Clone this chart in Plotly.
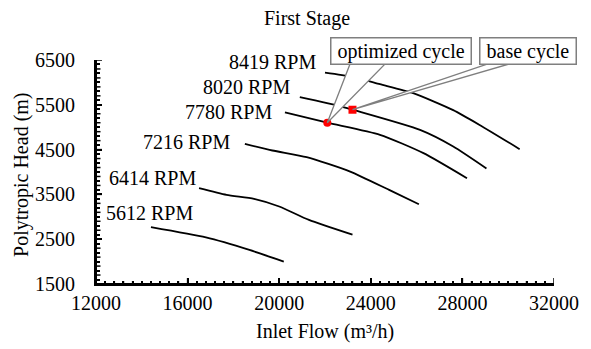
import plotly.graph_objects as go

# ---- data ----
flow_5612 = [14400, 16800, 18700, 20200]
head_5612 = [2770, 2540, 2260, 2000]
flow_6414 = [16500, 17700, 18900, 20000, 21300, 23200]
head_6414 = [3640, 3490, 3400, 3230, 2930, 2600]
flow_7216 = [18500, 19700, 21200, 23100, 24800, 26100]
head_7216 = [4630, 4480, 4330, 4010, 3600, 3280]
flow_7780 = [20250, 22100, 24400, 26300, 28200]
head_7780 = [5330, 5100, 4830, 4420, 3860]
flow_8020 = [20900, 22650, 23200, 26150, 27600, 29050]
head_8020 = [5670, 5470, 5390, 4940, 4570, 4080]
flow_8419 = [22000, 23150, 24400, 25850, 27600, 28750, 30500]
head_8419 = [6220, 6130, 5960, 5760, 5380, 5050, 4510]

speed_labels = ["5612 RPM", "6414 RPM", "7216 RPM", "7780 RPM", "8020 RPM", "8419 RPM"]
curves = [(flow_5612, head_5612), (flow_6414, head_6414), (flow_7216, head_7216),
          (flow_7780, head_7780), (flow_8020, head_8020), (flow_8419, head_8419)]

base_flow = [23200]
base_head = [5390]
opt_flow = [22100]
opt_head = [5100]

X_RANGE = [12000, 32000]
Y_RANGE = [1500, 6500]
X_MAJOR, X_MINOR = 4000, 400
Y_MAJOR, Y_MINOR = 1000, 200

FONT = "Liberation Serif"
FS = 20
fig = go.Figure()

for (fx, hy), name in zip(curves, speed_labels):
    fig.add_trace(go.Scatter(x=fx, y=hy, mode="lines", name=name,
                             line=dict(color="black", width=1.8, shape="spline", smoothing=0.6),
                             showlegend=False))

fig.add_trace(go.Scatter(x=opt_flow, y=opt_head, mode="markers", name="optimized cycle",
                         marker=dict(color="#ff0000", size=8, symbol="circle"), showlegend=False))
fig.add_trace(go.Scatter(x=base_flow, y=base_head, mode="markers", name="base cycle",
                         marker=dict(color="#ff0000", size=8, symbol="square"), showlegend=False))

# speed labels anchored to the first point of each curve (pixel shifts)
label_shift = [(44, 14), (-1, 10), (-13, 2), (-11, 0), (-8, 10), (-7, 11)]
for (fx, hy), name, (dx, dy) in zip(curves, speed_labels, label_shift):
    fig.add_annotation(x=fx[0], y=hy[0], text=name, showarrow=False,
                       xanchor="right", yanchor="middle", xshift=dx, yshift=dy,
                       font=dict(family=FONT, size=FS, color="black"))

# callout wedges (pixel offsets relative to the marked points)
fig.add_shape(type="path", xref="x", yref="y", xsizemode="pixel", ysizemode="pixel",
              xanchor=opt_flow[0], yanchor=opt_head[0],
              path="M 0 0 L 24 62 L 61 62 Z",
              line=dict(color="#7f7f7f", width=1.3), fillcolor="white", layer="above")
fig.add_shape(type="path", xref="x", yref="y", xsizemode="pixel", ysizemode="pixel",
              xanchor=base_flow[0], yanchor=base_head[0],
              path="M 0 0 L 145 49 L 168 49 Z",
              line=dict(color="#7f7f7f", width=1.3), fillcolor="white", layer="above")

fig.add_annotation(xref="paper", yref="paper", x=0.667, y=1.04, text=" optimized cycle ",
                   showarrow=False, xanchor="center", yanchor="middle",
                   font=dict(family=FONT, size=FS, color="black"),
                   bgcolor="white", bordercolor="#7f7f7f", borderwidth=1.5, borderpad=1)
fig.add_annotation(xref="paper", yref="paper", x=0.943, y=1.04, text=" base cycle ",
                   showarrow=False, xanchor="center", yanchor="middle",
                   font=dict(family=FONT, size=FS, color="black"),
                   bgcolor="white", bordercolor="#7f7f7f", borderwidth=1.5, borderpad=1)

# title and axis titles as text annotations
fig.add_annotation(xref="paper", yref="paper", x=0.4607, y=1.1875, text="First Stage",
                   showarrow=False, xanchor="center", yanchor="middle",
                   font=dict(family=FONT, size=FS, color="black"))
fig.add_annotation(xref="paper", yref="paper", x=-0.1616, y=0.487, text="Polytropic Head (m)",
                   showarrow=False, xanchor="center", yanchor="middle", textangle=-90,
                   font=dict(family=FONT, size=FS, color="black"))
fig.add_annotation(xref="paper", yref="paper", x=0.5, y=-0.214, text="Inlet Flow (m³/h)",
                   showarrow=False, xanchor="center", yanchor="middle",
                   font=dict(family=FONT, size=FS, color="black"))

# axis lines and inside tick marks, derived from the axis ranges
AX = dict(color="black", width=2)
TK = dict(color="black", width=1.5)
fig.add_shape(type="line", xref="paper", yref="paper", x0=0, x1=1, y0=0, y1=0, line=AX, layer="above")
fig.add_shape(type="line", xref="paper", yref="paper", x0=0, x1=0, y0=0, y1=1, line=AX, layer="above")
for v in range(X_RANGE[0], X_RANGE[1] + 1, X_MINOR):
    L = 6 if (v - X_RANGE[0]) % X_MAJOR == 0 else 3
    fig.add_shape(type="line", xref="x", yref="paper", ysizemode="pixel", yanchor=0,
                  x0=v, x1=v, y0=0, y1=L, line=TK, layer="above")
for v in range(Y_RANGE[0], Y_RANGE[1] + 1, Y_MINOR):
    L = 6 if (v - Y_RANGE[0]) % Y_MAJOR == 0 else 4.5
    fig.add_shape(type="line", xref="paper", yref="y", xsizemode="pixel", xanchor=0,
                  y0=v, y1=v, x0=0, x1=L, line=TK, layer="above")

fig.update_layout(
    width=591, height=349,
    margin=dict(l=96, r=37, t=60, b=65),
    paper_bgcolor="white", plot_bgcolor="white",
    font=dict(family=FONT, size=FS, color="black"),
)
fig.update_xaxes(range=X_RANGE, tick0=X_RANGE[0], dtick=X_MAJOR, ticks="inside", ticklen=6,
                 tickwidth=1.5, tickcolor="black", showline=True, linecolor="black", linewidth=2,
                 showgrid=False, zeroline=False, tickformat="d",
                 minor=dict(dtick=X_MINOR, ticks="inside", ticklen=3, tickcolor="black"))
fig.update_yaxes(range=Y_RANGE, tick0=Y_RANGE[0], dtick=Y_MAJOR, ticks="inside", ticklen=6,
                 tickwidth=1.5, tickcolor="black", showline=True, linecolor="black", linewidth=2,
                 showgrid=False, zeroline=False, tickformat="d", ticksuffix="   ",
                 minor=dict(dtick=Y_MINOR, ticks="inside", ticklen=4, tickcolor="black"))

fig.write_html("out.html")
